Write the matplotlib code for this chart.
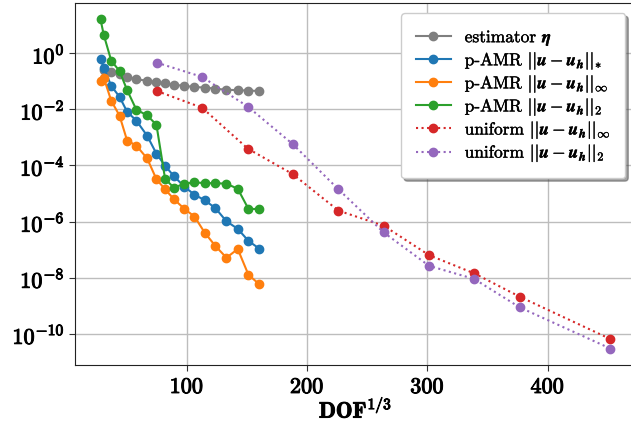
import numpy as np
import matplotlib
matplotlib.use("Agg")
import matplotlib.pyplot as plt
import matplotlib.patheffects as pe
from matplotlib.ticker import FixedLocator, FuncFormatter, NullLocator

plt.rcParams['font.family'] = 'serif'
plt.rcParams['font.serif'] = ['cmr10', 'DejaVu Serif']
plt.rcParams['mathtext.fontset'] = 'cm'
plt.rcParams['axes.unicode_minus'] = False

# DOF^(1/3) for the p-AMR iterations
x_amr = [28.2, 30.9, 37.1, 44.0, 50.3, 58.0, 67.0, 74.7, 81.9, 89.2,
         98.0, 106.3, 114.9, 123.7, 132.9, 142.3, 151.2, 160.3]
# log10 of errors
log_star = [-0.21, -0.51, -1.16, -1.55, -2.08, -2.40, -2.94, -3.58, -4.01, -4.38,
            -4.76, -5.04, -5.24, -5.52, -5.99, -6.26, -6.69, -6.97]
log_inf = [-0.98, -0.87, -1.69, -2.22, -3.11, -3.29, -3.75, -4.49, -4.85, -5.20,
           -5.55, -5.82, -6.40, -6.87, -7.29, -6.98, -7.90, -8.24]
log_l2 = [1.21, 0.66, -0.26, -0.63, -1.31, -2.01, -2.21, -2.55, -4.48, -4.79,
          -4.65, -4.60, -4.63, -4.63, -4.65, -4.83, -5.55, -5.55]
# estimator (first point hidden behind p-AMR markers)
x_est = x_amr[1:]
log_est = [-0.60, -0.68, -0.74, -0.84, -0.92, -0.98, -1.03, -1.07, -1.12,
           -1.16, -1.20, -1.22, -1.26, -1.30, -1.31, -1.33, -1.34]

# uniform refinement
x_uni = [74.9, 112.7, 150.7, 188.1, 226.0, 263.7, 301.4, 339.0, 376.7, 452.1]
log_uni_inf = [-1.34, -1.94, -3.40, -4.31, -5.61, -6.15, -7.20, -7.85, -8.68, -10.19]
log_uni_l2 = [-0.33, -0.84, -1.90, -3.24, -4.85, -6.39, -7.58, -8.05, -9.06, -10.53]

y_ticks = [1e0, 1e-2, 1e-4, 1e-6, 1e-8, 1e-10]
x_ticks = [100, 200, 300, 400]

fig = plt.figure(figsize=(6.31, 4.28), dpi=100)
ax = fig.add_axes([0.1189, 0.1472, 0.8888, 0.8458])

err = r'$||\mathbfit{u}-\mathbfit{u}_\mathbfit{h}||_{%s}$'
kw = dict(marker='o', markersize=6, linewidth=1.5)
ax.plot(x_est, 10 ** np.array(log_est), color='tab:gray',
        label=r'estimator $\mathbfit{\eta}$', **kw)
ax.plot(x_amr, 10 ** np.array(log_star), color='tab:blue',
        label='p-AMR ' + err % '*', **kw)
ax.plot(x_amr, 10 ** np.array(log_inf), color='tab:orange',
        label='p-AMR ' + err % r'\infty', **kw)
ax.plot(x_amr, 10 ** np.array(log_l2), color='tab:green',
        label='p-AMR ' + err % r'\mathbf{2}', **kw)
ax.plot(x_uni, 10 ** np.array(log_uni_inf), color='tab:red', linestyle=':',
        label='uniform ' + err % r'\infty', **kw)
ax.plot(x_uni, 10 ** np.array(log_uni_l2), color='tab:purple', linestyle=':',
        label='uniform ' + err % r'\mathbf{2}', **kw)

ax.set_yscale('log')
ax.yaxis.set_major_locator(FixedLocator(y_ticks))
ax.yaxis.set_minor_locator(NullLocator())
ax.yaxis.set_major_formatter(FuncFormatter(
    lambda v, p: r'$\mathbf{10^{%d}}$' % int(round(np.log10(v)))))
ax.xaxis.set_major_locator(FixedLocator(x_ticks))
ax.xaxis.set_major_formatter(FuncFormatter(lambda v, p: r'$\mathbf{%d}$' % v))
ax.tick_params(labelsize=16, color='#333333', length=4)
ax.tick_params(axis='x', pad=5)

ax.set_xlabel(r'$\mathbf{DOF}^{\mathbf{1/3}}$', fontsize=16, labelpad=0)
ax.grid(True, color='#bdbdbd', linewidth=1.0)
ax.set_axisbelow(True)
for s in ax.spines.values():
    s.set_color('#222222')

# thicken the bold labels a little
bold = [pe.withStroke(linewidth=0.7, foreground='black')]
for t in ax.get_xticklabels() + ax.get_yticklabels() + [ax.xaxis.label]:
    t.set_path_effects(bold)

leg = ax.legend(loc='upper right', fontsize=12.5, shadow=True, fancybox=True,
                framealpha=1.0, labelspacing=0.12, handlelength=2.0,
                borderpad=0.85, borderaxespad=0.6)
for t in leg.get_texts():
    t.set_path_effects([pe.withStroke(linewidth=0.3, foreground='black')])

fig.savefig('out.png', dpi=100)
